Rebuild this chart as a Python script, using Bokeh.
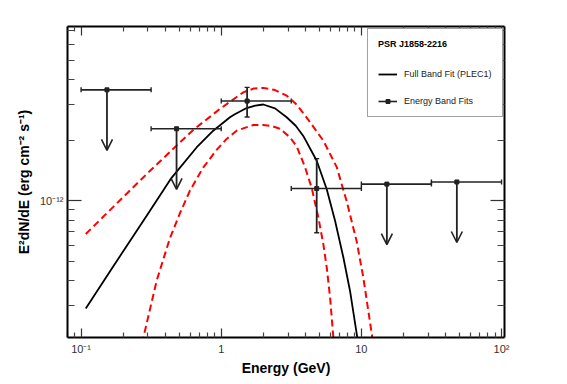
from bokeh.plotting import figure
from bokeh.models import (FixedTicker, LogAxis, CustomJSTickFormatter, ColumnDataSource,
                          Whisker, TeeHead, Arrow, OpenHead, Legend, LegendItem)
from bokeh.embed import file_html
from bokeh.resources import INLINE

# ---------------- data ----------------
# energy band fits (GeV, erg cm^-2 s^-1)
bin_lo = [0.1, 0.316, 1.0, 3.16, 10.0, 31.6]
bin_hi = [0.316, 1.0, 3.16, 10.0, 31.6, 100.0]
bin_energy = [0.153, 0.48, 1.53, 4.8, 15.2, 48.0]
bin_flux = [3.56e-12, 2.28e-12, 3.13e-12, 1.15e-12, 1.21e-12, 1.24e-12]
bin_upper_limit = [True, True, False, False, True, True]
bin_flux_err_lo = [None, None, 2.61e-12, 6.93e-13, None, None]
bin_flux_err_hi = [None, None, 3.66e-12, 1.62e-12, None, None]

# full band fit (PLEC1) curve
fit_energy = [0.108, 0.169, 0.293, 0.442, 0.667, 0.877, 1.154, 1.25, 1.518, 1.75, 1.995,
              2.42, 2.93, 3.4, 3.85, 4.80, 5.66, 6.49, 7.44, 8.30, 9.27, 9.6]
fit_flux = [2.91e-13, 4.70e-13, 8.39e-13, 1.30e-12, 1.84e-12, 2.23e-12, 2.60e-12,
            2.69e-12, 2.89e-12, 2.97e-12, 3.01e-12, 2.88e-12, 2.60e-12, 2.36e-12,
            2.10e-12, 1.58e-12, 1.14e-12, 7.95e-13, 5.22e-13, 3.56e-13, 2.17e-13, 1.85e-13]

# upper band (red dashed)
up_energy = [0.108, 0.169, 0.293, 0.480, 0.631, 0.979, 1.436, 1.7, 1.995, 2.42, 2.93,
             3.45, 4.07, 5.35, 6.67, 7.87, 9.27, 10.33, 11.87, 12.3]
up_flux = [6.83e-13, 9.30e-13, 1.355e-12, 1.88e-12, 2.25e-12, 2.86e-12, 3.46e-12,
           3.61e-12, 3.64e-12, 3.55e-12, 3.33e-12, 3.01e-12, 2.59e-12, 1.99e-12,
           1.47e-12, 9.89e-13, 6.25e-13, 4.14e-13, 2.17e-13, 1.82e-13]

# lower band (red dashed)
low_energy = [0.272, 0.346, 0.430, 0.507, 0.597, 0.743, 0.927, 1.093, 1.288, 1.693,
              1.995, 2.3, 2.62, 3.09, 3.46, 3.96, 4.42, 4.93, 5.35, 5.66, 5.98, 6.31, 6.40]
low_flux = [1.95e-13, 4.00e-13, 6.50e-13, 8.65e-13, 1.12e-12, 1.46e-12, 1.79e-12,
            2.03e-12, 2.23e-12, 2.38e-12, 2.38e-12, 2.35e-12, 2.28e-12, 2.07e-12, 1.86e-12,
            1.47e-12, 1.16e-12, 8.26e-13, 6.09e-13, 4.66e-13, 3.30e-13, 2.09e-13, 1.86e-13]

# axis ticks
x_major_ticks = [0.1, 1.0, 10.0, 100.0]
x_minor_ticks = [0.08, 0.09, 0.2, 0.3, 0.4, 0.5, 0.6, 0.7, 0.8, 0.9,
                 2, 3, 4, 5, 6, 7, 8, 9, 20, 30, 40, 50, 60, 70, 80, 90]
y_major_ticks = [1e-12]
y_minor_ticks = [3e-13, 4e-13, 5e-13, 6e-13, 7e-13, 8e-13, 9e-13,
                 2e-12, 3e-12, 4e-12, 5e-12, 6e-12, 7e-12]

x_limits = (0.08, 105.0)
y_limits = (2.09e-13, 7.35e-12)

FONT = "Liberation Sans"
MARK = "#222222"

p = figure(width=551, height=380, x_axis_type="log", y_axis_type="log",
           x_range=x_limits, y_range=y_limits,
           output_backend="svg", toolbar_location=None,
           min_border_left=67, min_border_right=47, min_border_top=26, min_border_bottom=43)
p.xgrid.visible = False
p.ygrid.visible = False
p.outline_line_color = None
p.background_fill_color = "white"
p.border_fill_color = "white"

fmt_code = """
const e = Math.round(Math.log10(tick));
if (e == 0) return "1";
if (e == 1) return "10";
const sup = {"-": "\\u207b", "0": "\\u2070", "1": "\\u00b9", "2": "\\u00b2", "3": "\\u00b3",
             "4": "\\u2074", "5": "\\u2075", "6": "\\u2076", "7": "\\u2077", "8": "\\u2078", "9": "\\u2079"};
return "10" + String(e).split("").map(c => sup[c]).join("");
"""

def style_axis(ax, major_in, minor_in):
    ax.axis_line_width = 2
    ax.axis_line_color = "black"
    ax.major_tick_in = major_in
    ax.major_tick_out = 0
    ax.minor_tick_in = minor_in
    ax.minor_tick_out = 0
    ax.major_tick_line_color = "#333333"
    ax.minor_tick_line_color = "#444444"
    ax.major_tick_line_width = 1.2
    ax.minor_tick_line_width = 1.2

xt = FixedTicker(ticks=x_major_ticks, minor_ticks=x_minor_ticks)
yt = FixedTicker(ticks=y_major_ticks, minor_ticks=y_minor_ticks)

xa = p.xaxis[0]
xa.ticker = xt
xa.formatter = CustomJSTickFormatter(code=fmt_code)
style_axis(xa, 9, 5)
xa.major_label_text_font = FONT
xa.major_label_text_font_size = "11px"
xa.major_label_text_color = "#333333"
xa.major_label_standoff = 5
xa.axis_label = "Energy (GeV)"
xa.axis_label_text_font = FONT
xa.axis_label_text_font_size = "14px"
xa.axis_label_text_font_style = "bold"
xa.axis_label_text_color = "black"
xa.axis_label_standoff = 2

ya = p.yaxis[0]
ya.ticker = yt
ya.formatter = CustomJSTickFormatter(code=fmt_code)
style_axis(ya, 14, 7)
ya.major_label_text_font = FONT
ya.major_label_text_font_size = "11px"
ya.major_label_text_color = "#333333"
ya.major_label_standoff = 4
ya.axis_label = "E\u00b2dN/dE (erg cm\u207b\u00b2 s\u207b\u00b9)"
ya.axis_label_text_font = FONT
ya.axis_label_text_font_size = "14px"
ya.axis_label_text_font_style = "bold"
ya.axis_label_text_color = "black"
ya.axis_label_standoff = 5

top = LogAxis(ticker=FixedTicker(ticks=x_major_ticks, minor_ticks=x_minor_ticks),
              formatter=CustomJSTickFormatter(code="return ''"),
              major_label_text_font_size="0px", major_label_standoff=0)
style_axis(top, 9, 5)
p.add_layout(top, "above")

right = LogAxis(ticker=FixedTicker(ticks=y_major_ticks, minor_ticks=y_minor_ticks),
                formatter=CustomJSTickFormatter(code="return ''"),
                major_label_text_font_size="0px", major_label_standoff=0)
style_axis(right, 14, 7)
p.add_layout(right, "right")

# ---------------- curves ----------------
p.line(up_energy, up_flux, line_color="#ff0000", line_width=2, line_dash="7 4")
p.line(low_energy, low_flux, line_color="#ff0000", line_width=2, line_dash="7 4")
fit_r = p.line(fit_energy, fit_flux, line_color="black", line_width=1.8)

# ---------------- energy band points ----------------
src = ColumnDataSource(dict(x=bin_energy, y=bin_flux, lo=bin_lo, hi=bin_hi))
seg_r = p.segment(x0="lo", y0="y", x1="hi", y1="y", source=src,
                  line_color=MARK, line_width=1.6)
p.add_layout(Whisker(source=src, base="y", lower="lo", upper="hi", dimension="width",
                     line_alpha=0,
                     lower_head=TeeHead(size=5, line_color=MARK, line_width=1.4),
                     upper_head=TeeHead(size=5, line_color=MARK, line_width=1.4)))

meas = [i for i, ul in enumerate(bin_upper_limit) if not ul]
msrc = ColumnDataSource(dict(x=[bin_energy[i] for i in meas],
                             lo=[bin_flux_err_lo[i] for i in meas],
                             hi=[bin_flux_err_hi[i] for i in meas]))
p.segment(x0="x", y0="lo", x1="x", y1="hi", source=msrc, line_color=MARK, line_width=1.8)
p.add_layout(Whisker(source=msrc, base="x", lower="lo", upper="hi", dimension="height",
                     line_alpha=0,
                     lower_head=TeeHead(size=5, line_color=MARK, line_width=1.4),
                     upper_head=TeeHead(size=5, line_color=MARK, line_width=1.4)))

uls = [i for i, ul in enumerate(bin_upper_limit) if ul]
usrc = ColumnDataSource(dict(x=[bin_energy[i] for i in uls],
                             y=[bin_flux[i] for i in uls],
                             yend=[bin_flux[i] * 0.5 for i in uls]))
p.add_layout(Arrow(source=usrc, x_start="x", y_start="y", x_end="x", y_end="yend",
                   line_color=MARK, line_width=1.8,
                   end=OpenHead(size=11, line_color=MARK, line_width=1.6)))

sq_r = p.scatter(x="x", y="y", source=src, marker="square", size=4,
                 fill_color=MARK, line_color=MARK)

# ---------------- legend ----------------
legend = Legend(items=[LegendItem(label="Full Band Fit (PLEC1)", renderers=[fit_r]),
                       LegendItem(label="Energy Band Fits", renderers=[seg_r, sq_r])],
                title="PSR J1858-2216", location=(300, 220),
                title_text_font=FONT, title_text_font_size="9px",
                title_text_font_style="bold", title_text_color="black",
                title_standoff=20,
                label_text_font=FONT, label_text_font_size="9px", label_text_color="#222222",
                padding=10, spacing=17, label_height=10, glyph_height=10, glyph_width=19,
                label_standoff=7, margin=0,
                border_line_color="#444444", border_line_width=1.2,
                background_fill_color="white", background_fill_alpha=1.0)
p.add_layout(legend, "center")

open("out.html", "w").write(file_html(p, INLINE))
